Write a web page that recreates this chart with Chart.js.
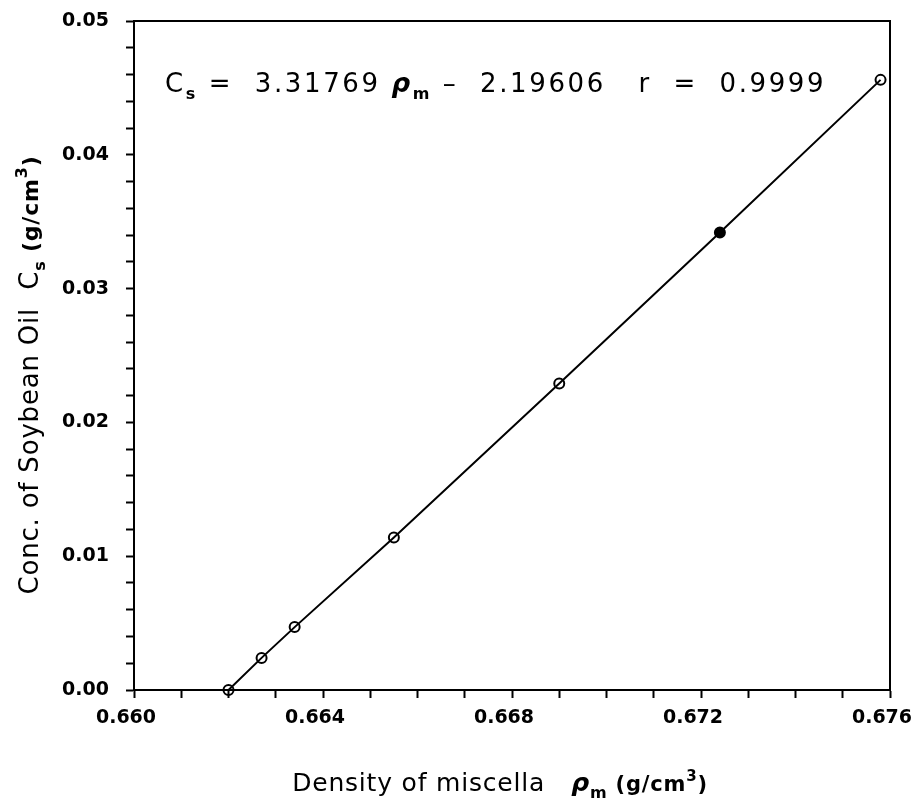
<!DOCTYPE html>
<html>
<head>
<meta charset="utf-8">
<script src="https://cdn.jsdelivr.net/npm/chart.js@4.4.0/dist/chart.umd.min.js"></script>
<style>
  body { margin: 0; background: #fff; }
  #grafico { display: block; }
</style>
</head>
<body>
<canvas id="grafico" width="914" height="802"></canvas>
<script>
// densidade da miscela (g/cm3) x concentracao de oleo de soja (g/cm3)
var densidade = [0.6620, 0.6627, 0.6634, 0.6655, 0.6690, 0.6724, 0.6758];
var concentracao = [0.0000, 0.0024, 0.0047, 0.0114, 0.0229, 0.0342, 0.0456];
var preenchido = [false, false, false, false, false, true, false];

var ticksX = [0.660, 0.664, 0.668, 0.672, 0.676];
var rotulosX = ['0.660', '0.664', '0.668', '0.672', '0.676'];
var ticksY = [0.00, 0.01, 0.02, 0.03, 0.04, 0.05];
var rotulosY = ['0.00', '0.01', '0.02', '0.03', '0.04', '0.05'];

var equacao = [['C', ''], ['s', 'sub'], [' =  3.31769 ', ''], ['ρ', 'rho'], ['m', 'sub'], [' \u2013  2.19606   r  =  0.9999', '']];
var tituloX = [['Density of miscella   ', ''], ['ρ', 'rho'], ['m', 'sub'], [' (g/cm', 'b'], ['3', 'sup'], [')', 'b']];
var tituloY = [['Conc. of Soybean Oil  C', ''], ['s', 'sub'], [' (g/cm', 'b'], ['3', 'sup'], [')', 'b']];

function fonteDe(parte, tam, familia) {
    if (parte[1] == 'sub') return 'bold ' + Math.round(tam * 0.62) + 'px ' + familia;
    if (parte[1] == 'sup') return 'bold ' + Math.round(tam * 0.6) + 'px ' + familia;
    if (parte[1] == 'rho') return 'italic bold ' + tam + 'px ' + familia;
    if (parte[1] == 'b') return 'bold ' + Math.round(tam * 0.85) + 'px ' + familia;
    return tam + 'px ' + familia;
}

function desenharTexto(ctx, partes, x, y, tam, familia, espaco, centro) {
    ctx.save();
    ctx.fillStyle = '#000';
    ctx.textBaseline = 'alphabetic';
    ctx.textAlign = 'left';
    ctx.letterSpacing = espaco + 'px';
    var largura = 0;
    for (var i = 0; i < partes.length; i++) {
        ctx.font = fonteDe(partes[i], tam, familia);
        largura += ctx.measureText(partes[i][0]).width;
    }
    var px = centro ? x - largura / 2 : x;
    for (var j = 0; j < partes.length; j++) {
        var p = partes[j];
        ctx.font = fonteDe(p, tam, familia);
        var dy = 0;
        if (p[1] == 'sub') dy = tam * 0.28;
        if (p[1] == 'sup') dy = -tam * 0.42;
        ctx.fillText(p[0], px, y + dy);
        px += ctx.measureText(p[0]).width;
    }
    ctx.restore();
}

function rotulo(lista, textos, valor) {
    for (var i = 0; i < lista.length; i++) {
        if (Math.abs(valor - lista[i]) < 1e-7) return textos[i];
    }
    return '';
}

var textosGrafico = {
    id: 'textosGrafico',
    afterDraw: function(chart) {
        var ctx = chart.ctx;
        var area = chart.chartArea;

        // moldura
        ctx.save();
        ctx.strokeStyle = '#000';
        ctx.lineWidth = 2;
        ctx.strokeRect(area.left, area.top, area.right - area.left, area.bottom - area.top);
        ctx.restore();

        desenharTexto(ctx, equacao, 165, 92, 26, 'DejaVu Sans', 2.6, false);
        desenharTexto(ctx, tituloX, 500, 791, 25, 'DejaVu Sans', 0.8, true);

        ctx.save();
        ctx.translate(38, 375);
        ctx.rotate(-Math.PI / 2);
        desenharTexto(ctx, tituloY, 0, 0, 26, 'DejaVu Sans', 0.8, true);
        ctx.restore();
    }
};

var pontos = [];
for (var i = 0; i < densidade.length; i++) {
    pontos.push({ x: densidade[i], y: concentracao[i] });
}

var fonteTicks = { family: 'DejaVu Sans', weight: 'bold', size: 19 };

new Chart(document.getElementById('grafico').getContext('2d'), {
    type: 'scatter',
    data: {
        datasets: [{
            data: pontos,
            showLine: true,
            borderColor: '#000',
            borderWidth: 2,
            pointRadius: 5,
            pointBorderWidth: 2,
            pointBorderColor: '#000',
            pointBackgroundColor: preenchido.map(function(f) { return f ? '#000' : 'rgba(0,0,0,0)'; }),
            clip: false
        }]
    },
    options: {
        responsive: false,
        animation: false,
        layout: { padding: { top: 21, right: 24, left: 0, bottom: 0 } },
        plugins: {
            legend: { display: false },
            tooltip: { enabled: false }
        },
        scales: {
            x: {
                type: 'linear',
                min: 0.660,
                max: 0.676,
                grid: {
                    drawOnChartArea: false,
                    drawTicks: true,
                    tickLength: 8,
                    tickWidth: 2,
                    tickColor: '#000'
                },
                border: { display: true, color: '#000', width: 2 },
                ticks: {
                    stepSize: 0.001,
                    autoSkip: false,
                    maxRotation: 0,
                    minRotation: 0,
                    color: '#000',
                    padding: 9,
                    labelOffset: -8,
                    font: fonteTicks,
                    callback: function(valor) { return rotulo(ticksX, rotulosX, valor); }
                },
                afterFit: function(scale) {
                    scale.height = 112;
                    scale.paddingLeft = 0;
                    scale.paddingRight = 0;
                }
            },
            y: {
                type: 'linear',
                min: 0,
                max: 0.05,
                grid: {
                    drawOnChartArea: false,
                    drawTicks: true,
                    tickLength: 8,
                    tickWidth: 2,
                    tickColor: '#000'
                },
                border: { display: true, color: '#000', width: 2 },
                ticks: {
                    stepSize: 0.002,
                    autoSkip: false,
                    color: '#000',
                    padding: 17,
                    font: fonteTicks,
                    callback: function(valor) { return rotulo(ticksY, rotulosY, valor); }
                },
                afterFit: function(scale) {
                    scale.width = 134;
                    scale.paddingTop = 0;
                    scale.paddingBottom = 0;
                }
            }
        }
    },
    plugins: [textosGrafico]
});
</script>
</body>
</html>
